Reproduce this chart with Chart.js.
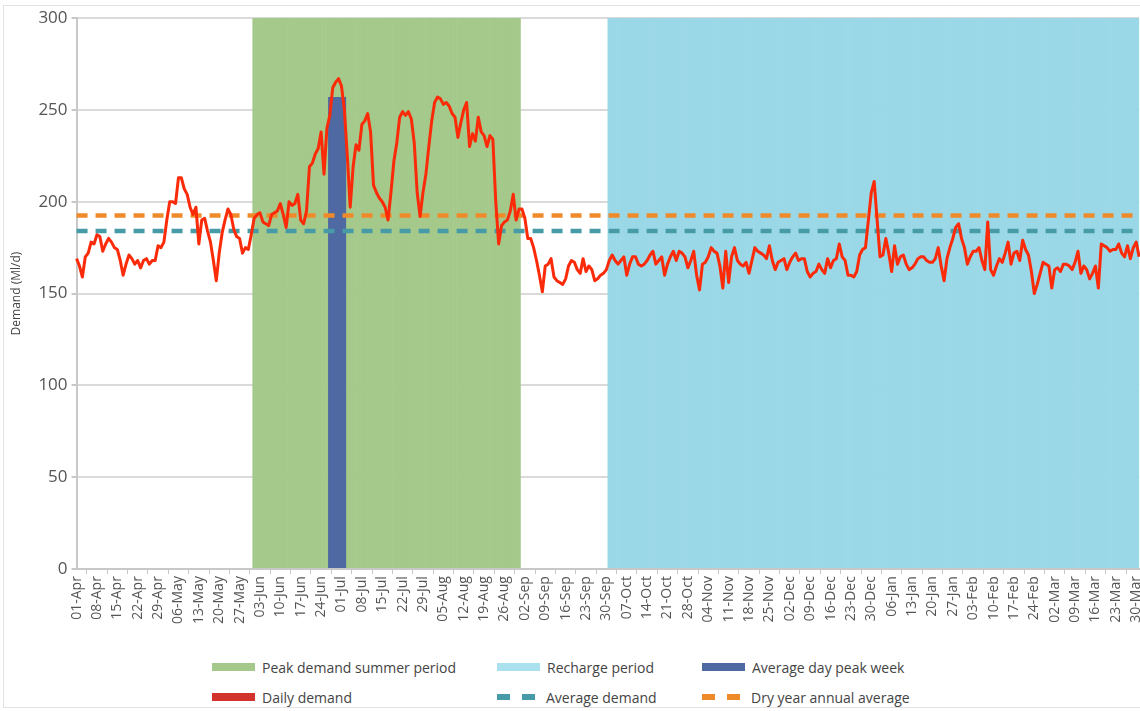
<!DOCTYPE html>
<html>
<head>
<meta charset="utf-8">
<title>Daily demand</title>
<script src="https://cdn.jsdelivr.net/npm/chart.js@4.4.1/dist/chart.umd.min.js"></script>
<style>
  html, body { margin: 0; padding: 0; background: #fff; overflow: hidden; }
  body { width: 1140px; height: 711px; position: relative; font-family: "Open Sans", sans-serif; }
  #frame { position: absolute; left: 3px; top: 5px; width: 1160px; height: 703px; border: 1px solid #e3e3e3; box-sizing: border-box; }
  #wrap { position: absolute; left: 0; top: 0; width: 1155px; height: 626px; }
  .item { position: absolute; height: 20px; display: flex; align-items: center; font-size: 14px; color: #444; white-space: nowrap; }
  .sw { width: 43px; margin-right: 7px; display: flex; justify-content: space-between; }
  .sw.solid span { width: 43px; height: 8px; }
  .sw.dash { width: 38px; margin-right: 11px; }
  .sw.dash span { width: 13px; height: 6px; }
</style>
</head>
<body>
<div id="frame"></div>
<div id="wrap"><canvas id="demandChart"></canvas></div>
<div id="legend"></div>

<script>
const monthNames = ["Jan", "Feb", "Mar", "Apr", "May", "Jun", "Jul", "Aug", "Sep", "Oct", "Nov", "Dec"];

// daily demand in Ml/d, 01-Apr to 31-Mar (leap year), one row per week
const dailyDemand = [
  169, 165, 159, 170, 172, 178, 177,
  182, 181, 173, 177, 180, 178, 175,
  174, 168, 160, 166, 171, 169, 166,
  168, 164, 168, 169, 166, 168, 168,
  176, 175, 178, 190, 200, 200, 199,
  213, 213, 207, 204, 197, 193, 197,
  177, 190, 191, 184, 178, 168, 157,
  172, 183, 190, 196, 193, 185, 181,
  180, 172, 175, 174, 182, 191, 193,
  194, 189, 188, 187, 193, 194, 195,
  199, 193, 186, 200, 198, 199, 204,
  190, 188, 195, 219, 221, 226, 229,
  238, 215, 240, 247, 262, 265, 267,
  263, 250, 225, 197, 219, 231, 228,
  242, 244, 248, 238, 209, 205, 202,
  200, 197, 190, 205, 222, 232, 246,
  249, 247, 249, 245, 232, 205, 192,
  205, 215, 230, 244, 254, 257, 256,
  253, 254, 252, 248, 246, 235, 243,
  250, 254, 230, 237, 233, 246, 238,
  236, 230, 236, 234, 200, 177, 187,
  189, 190, 195, 204, 190, 196, 196,
  191, 180, 180, 175, 168, 160, 151,
  165, 166, 169, 159, 157, 156, 155,
  158, 165, 168, 167, 163, 161, 169,
  162, 165, 163, 157, 158, 160, 161,
  163, 168, 171, 168, 166, 168, 170,
  160, 166, 170, 170, 166, 165, 166,
  168, 171, 173, 166, 168, 170, 160,
  166, 170, 173, 168, 173, 172, 170,
  164, 168, 173, 160, 152, 166, 167,
  170, 175, 173, 172, 165, 153, 173,
  156, 170, 175, 168, 166, 165, 167,
  161, 168, 175, 173, 172, 171, 169,
  176, 168, 163, 167, 168, 169, 163,
  167, 170, 172, 168, 169, 169, 162,
  159, 161, 162, 166, 163, 161, 169,
  164, 168, 169, 177, 170, 168, 160,
  160, 159, 162, 171, 174, 175, 190,
  205, 211, 190, 170, 171, 180, 172,
  162, 176, 166, 170, 171, 166, 163,
  164, 166, 169, 170, 170, 168, 167,
  167, 169, 175, 165, 157, 169, 175,
  180, 186, 188, 180, 175, 166, 170,
  173, 173, 175, 168, 163, 189, 163,
  160, 165, 169, 167, 172, 178, 166,
  172, 173, 168, 179, 174, 171, 162,
  150, 155, 161, 167, 166, 165, 153,
  163, 164, 162, 166, 166, 165, 163,
  167, 173, 161, 165, 163, 158, 161,
  165, 153, 177, 176, 175, 173, 174,
  174, 177, 172, 170, 176, 169, 175,
  178, 170
];

const averageDemand = 184;
const dryYearAverage = 192.5;
const peakWeekDemand = 257;
const bandTop = 300;

const summerPeriod = ["01-Jun", "31-Aug"];
const rechargePeriod = ["01-Oct", "31-Mar"];
const peakWeek = ["27-Jun", "02-Jul"];

const yTicks = [0, 50, 100, 150, 200, 250, 300];

// one category per day
const days = [];
const d = new Date(2015, 3, 1);
for (let i = 0; i < dailyDemand.length; i++) {
  days.push(String(d.getDate()).padStart(2, "0") + "-" + monthNames[d.getMonth()]);
  d.setDate(d.getDate() + 1);
}

function band(range, value) {
  const a = days.indexOf(range[0]);
  const b = days.indexOf(range[1]);
  return days.map((lab, i) => (i >= a && i <= b ? value : null));
}

const colors = {
  daily: "#fb2a08",
  dailyKey: "#d2332c",
  dry: "#ef8a2b",
  avg: "#479ba6",
  peak: "#4f69a3",
  summer: "#a4c98a",
  recharge: "#9bd8e7",
  rechargeKey: "#a9e1ef"
};

const barCommon = {
  type: "bar",
  grouped: false,
  categoryPercentage: 1,
  barPercentage: 1.2,
  borderWidth: 0
};

const ctx = document.getElementById("demandChart").getContext("2d");
const chart = new Chart(ctx, {
  data: {
    labels: days,
    datasets: [
      {
        type: "line",
        label: "Daily demand",
        data: dailyDemand,
        borderColor: colors.daily,
        borderWidth: 3,
        pointRadius: 0,
        tension: 0,
        borderJoinStyle: "round"
      },
      {
        type: "line",
        label: "Dry year annual average",
        data: days.map(() => dryYearAverage),
        borderColor: colors.dry,
        borderWidth: 4.5,
        borderDash: [11, 8],
        pointRadius: 0
      },
      {
        type: "line",
        label: "Average demand",
        data: days.map(() => averageDemand),
        borderColor: colors.avg,
        borderWidth: 4.5,
        borderDash: [11, 8],
        pointRadius: 0
      },
      { ...barCommon, label: "Average day peak week", data: band(peakWeek, peakWeekDemand), backgroundColor: colors.peak },
      { ...barCommon, label: "Peak demand summer period", data: band(summerPeriod, bandTop), backgroundColor: colors.summer },
      { ...barCommon, label: "Recharge period", data: band(rechargePeriod, bandTop), backgroundColor: colors.recharge }
    ]
  },
  options: {
    responsive: true,
    maintainAspectRatio: false,
    animation: false,
    layout: { padding: { top: 18, left: 9, right: 0, bottom: 0 } },
    plugins: {
      legend: { display: false },
      tooltip: { enabled: false }
    },
    scales: {
      x: {
        type: "category",
        offset: false,
        grid: { color: "rgba(0,0,0,0)", tickColor: "#c8c8c8", tickLength: 5 },
        border: { color: "#c8c8c8", width: 2 },
        ticks: {
          autoSkip: false,
          minRotation: 90,
          maxRotation: 90,
          padding: 2,
          color: "#555",
          font: { family: "Open Sans", size: 14 },
          callback: (v, i) => (i % 7 === 0 ? days[i] : null)
        }
      },
      y: {
        min: yTicks[0],
        max: yTicks[yTicks.length - 1],
        afterBuildTicks: axis => { axis.ticks = yTicks.map(v => ({ value: v })); },
        grid: { color: "#dadada", lineWidth: 2, tickColor: "#c8c8c8", tickLength: 5 },
        border: { color: "#c8c8c8", width: 2 },
        ticks: { color: "#555", padding: 4, font: { family: "Open Sans", size: 17 } },
        title: {
          display: true,
          text: "Demand (Ml/d)",
          color: "#444",
          padding: { top: 0, bottom: 11 },
          font: { family: "Open Sans", size: 12 }
        }
      }
    }
  }
});

// legend laid out in two rows of three, like the original
const legendItems = [
  ["Peak demand summer period", "solid", colors.summer, 212, 667],
  ["Recharge period", "solid", colors.rechargeKey, 497, 667],
  ["Average day peak week", "solid", colors.peak, 702, 667],
  ["Daily demand", "solid", colors.dailyKey, 212, 697],
  ["Average demand", "dash", colors.avg, 497, 697],
  ["Dry year annual average", "dash", colors.dry, 702, 697]
];
const legend = document.getElementById("legend");
legendItems.forEach(([label, kind, color, x, y]) => {
  const ds = chart.data.datasets.find(s => s.label === label);
  const item = document.createElement("div");
  item.className = "item";
  item.style.left = x + "px";
  item.style.top = (y - 10) + "px";
  const sw = document.createElement("div");
  sw.className = "sw " + kind;
  const n = kind === "dash" ? 2 : 1;
  for (let i = 0; i < n; i++) {
    const s = document.createElement("span");
    s.style.background = color;
    sw.appendChild(s);
  }
  item.appendChild(sw);
  const t = document.createElement("span");
  t.textContent = ds.label;
  item.appendChild(t);
  legend.appendChild(item);
});
</script>
</body>
</html>
